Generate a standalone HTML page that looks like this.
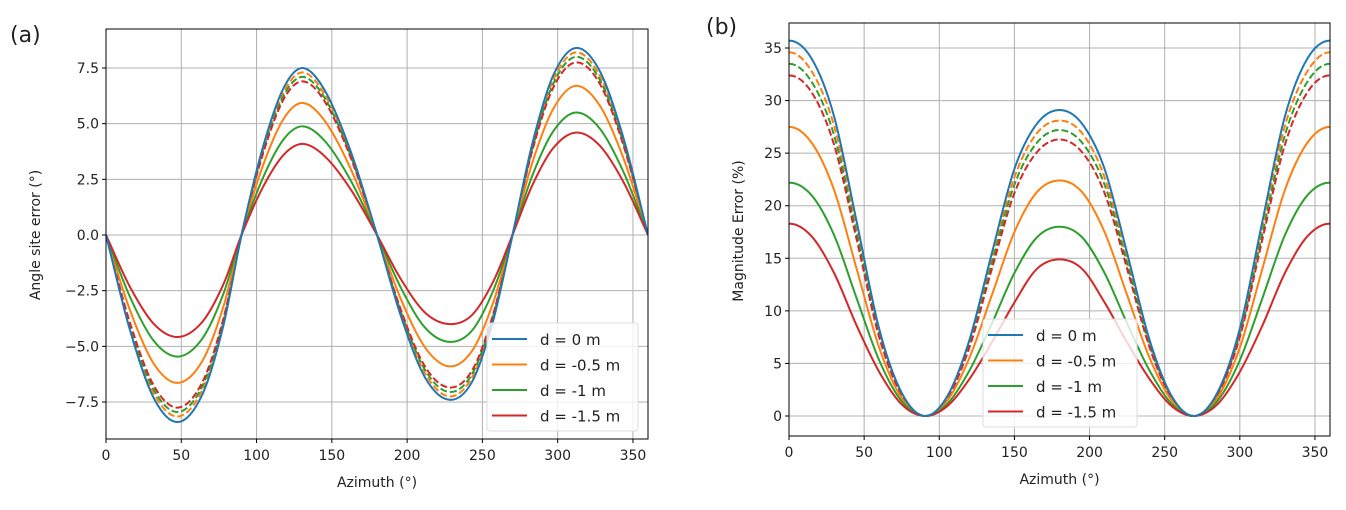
<!DOCTYPE html>
<html><head><meta charset="utf-8"><style>
body{margin:0;background:#fff}
svg text{font-family:"DejaVu Sans","Liberation Sans",sans-serif;fill:#222}
</style></head><body>
<svg id="fig" width="1346" height="505" xmlns="http://www.w3.org/2000/svg"></svg>
<script>
const azimuthA=[0,16,32,48,64,78,90,104,118,131,146,163,180,196,212,228,243,257,270,283,297,312,328,344,360];
const azimuthB=[0,15,30,45,60,75,90,105,120,135,150,165,180,195,210,225,240,255,270,285,300,315,330,345,360];
const seriesNames=["d = 0 m","d = -0.5 m","d = -1 m","d = -1.5 m"];
const colors=["#1f77b4","#ff7f0e","#2ca02c","#d62728"];
const aTicksX=[0,50,100,150,200,250,300,350];
const aTicksY=[-7.5,-5,-2.5,0,2.5,5,7.5];
const aTickLabelsY=["\u22127.5","\u22125.0","\u22122.5","0.0","2.5","5.0","7.5"];
const bTicksY=[0,5,10,15,20,25,30,35];
// chart (a) angle site error
const aBlue=[0,-4.29,-7.36,-8.4,-7.16,-4.06,0,3.89,6.61,7.5,6.41,3.67,0,-3.67,-6.41,-7.4,-6.61,-3.89,0,4.06,7.16,8.4,7.36,4.29,0];
const aOrange=[0,-3.39,-5.81,-6.64,-5.66,-3.21,0,3.07,5.22,5.93,5.06,2.9,0,-2.9,-5.06,-5.9,-5.22,-3.07,0,3.21,5.66,6.7,5.81,3.39,0];
const aGreen=[0,-2.79,-4.78,-5.46,-4.65,-2.64,0,2.53,4.3,4.88,4.17,2.39,0,-2.39,-4.17,-4.8,-4.3,-2.53,0,2.64,4.65,5.5,4.78,2.79,0];
const aRed=[0,-2.34,-4.01,-4.58,-3.9,-2.21,0,2.12,3.6,4.09,3.49,2.0,0,-2.0,-3.49,-4.0,-3.6,-2.12,0,2.21,3.9,4.6,4.01,2.34,0];
const aOrangeDash=[0,-4.16,-7.14,-8.15,-6.95,-3.94,0,3.77,6.41,7.3,6.22,3.56,0,-3.56,-6.22,-7.25,-6.41,-3.77,0,3.94,6.95,8.2,7.14,4.16,0];
const aGreenDash=[0,-4.06,-6.97,-7.95,-6.78,-3.84,0,3.68,6.26,7.1,6.07,3.48,0,-3.48,-6.07,-7.05,-6.26,-3.68,0,3.84,6.78,8.0,6.97,4.06,0];
const aRedDash=[0,-3.96,-6.79,-7.75,-6.61,-3.75,0,3.59,6.1,6.9,5.92,3.39,0,-3.39,-5.92,-6.85,-6.1,-3.59,0,3.75,6.61,7.75,6.79,3.96,0];
// chart (b) magnitude error
const bBlue=[35.7,34.0,28.5,18.5,8.3,2.2,0,1.8,7.2,15.5,23.5,27.8,29.1,27.8,23.5,15.5,7.2,1.8,0,2.2,8.3,18.5,28.5,34.0,35.7];
const bOrange=[27.5,26.0,21.5,14.0,6.5,1.7,0,1.4,5.5,11.5,17.5,21.3,22.4,21.3,17.5,11.5,5.5,1.4,0,1.7,6.5,14.0,21.5,26.0,27.5];
const bGreen=[22.2,21.0,17.2,11.2,5.3,1.4,0,1.1,4.3,8.8,13.6,17.0,18.0,17.0,13.6,8.8,4.3,1.1,0,1.4,5.3,11.2,17.2,21.0,22.2];
const bRed=[18.3,17.1,13.6,8.6,4.2,1.1,0,0.9,3.5,7.0,10.8,14.0,14.9,14.0,10.8,7.0,3.5,0.9,0,1.1,4.2,8.6,13.6,17.1,18.3];
const bOrangeDash=[34.6,32.8,27.6,17.9,8.0,2.1,0,1.7,7.0,15.0,22.7,26.9,28.1,26.9,22.7,15.0,7.0,1.7,0,2.1,8.0,17.9,27.6,32.8,34.6];
const bGreenDash=[33.5,31.8,26.7,17.3,7.8,2.1,0,1.7,6.7,14.5,22.0,26.0,27.2,26.0,22.0,14.5,6.7,1.7,0,2.1,7.8,17.3,26.7,31.8,33.5];
const bRedDash=[32.4,30.8,25.8,16.8,7.5,2.0,0,1.6,6.5,14.0,21.2,25.1,26.3,25.1,21.2,14.0,6.5,1.6,0,2.0,7.5,16.8,25.8,30.8,32.4];

const NS="http://www.w3.org/2000/svg";
const svg=document.getElementById('fig');
function mk(tag,attrs,parent){const e=document.createElementNS(NS,tag);for(const k in attrs)e.setAttribute(k,attrs[k]);(parent||svg).appendChild(e);return e;}
function pathD(xs,ys,sx,sy,flatEnds){
  const p=xs.map((x,i)=>[sx(x),sy(ys[i])]);
  const n=p.length;
  const m=[];
  for(let i=0;i<n;i++){
    const a=p[Math.max(0,i-1)],b=p[Math.min(n-1,i+1)];
    m.push((b[1]-a[1])/(b[0]-a[0]));
  }
  if(flatEnds){m[0]=0;m[n-1]=0;}
  let d="M"+p[0][0].toFixed(2)+","+p[0][1].toFixed(2);
  for(let i=0;i<n-1;i++){
    const h=(p[i+1][0]-p[i][0])/3;
    const c1=[p[i][0]+h,p[i][1]+m[i]*h];
    const c2=[p[i+1][0]-h,p[i+1][1]-m[i+1]*h];
    d+=" C"+c1.map(v=>v.toFixed(2))+" "+c2.map(v=>v.toFixed(2))+" "+p[i+1].map(v=>v.toFixed(2));
  }
  return d;
}
function chart(cfg){
  const g=mk('g',{});
  
  
  const sx=v=>cfg.x0+(v-0)/360*(cfg.x1-cfg.x0);
  const sy=v=>cfg.yZero+(v)*(cfg.yRef-cfg.yZero)/cfg.vRef;
  const clip=mk('clipPath',{id:cfg.name+'-clip'},g);
  mk('rect',{x:cfg.x0,y:cfg.top,width:cfg.x1-cfg.x0,height:cfg.bot-cfg.top},clip);
  aTicksX.forEach(t=>{
    const l=mk('line',{x1:sx(t),x2:sx(t),y1:cfg.top,y2:cfg.bot,stroke:'#b0b0b0','stroke-width':1},g);
    
    
    mk('line',{x1:sx(t),x2:sx(t),y1:cfg.bot,y2:cfg.bot+4,stroke:'#000'},g);
    const tx=mk('text',{x:sx(t),y:cfg.bot+21,'text-anchor':'middle','font-size':14},g);
    tx.textContent=t;
    
    
  });
  cfg.yTicks.forEach((t,i)=>{
    const l=mk('line',{x1:cfg.x0,x2:cfg.x1,y1:sy(t),y2:sy(t),stroke:'#b0b0b0','stroke-width':1},g);
    
    
    mk('line',{x1:cfg.x0-4,x2:cfg.x0,y1:sy(t),y2:sy(t),stroke:'#000'},g);
    const tx=mk('text',{x:cfg.x0-7,y:sy(t)+5,'text-anchor':'end','font-size':14},g);
    tx.textContent=cfg.yLabels[i];
    
    
  });
  const lines=mk('g',{'clip-path':'url(#'+cfg.name+'-clip)'},g);
  cfg.series.forEach(s=>{
    const p=mk('path',{d:pathD(cfg.xs,s.v,sx,sy,cfg.flat),fill:'none',stroke:s.c,'stroke-width':2,'stroke-dasharray':s.dash?'7,3':'none'},lines);
    
    
  });
  mk('rect',{x:cfg.x0,y:cfg.top,width:cfg.x1-cfg.x0,height:cfg.bot-cfg.top,fill:'none',stroke:'#000','stroke-width':1},g);
  const xl=mk('text',{x:(cfg.x0+cfg.x1)/2,y:cfg.bot+48,'text-anchor':'middle','font-size':14},g);
  xl.textContent="Azimuth (°)";
  
  
  const yl=mk('text',{x:0,y:0,'text-anchor':'middle','font-size':14,transform:'translate('+cfg.ylx+','+cfg.yly+') rotate(-90)'},g);
  yl.textContent=cfg.ytitle;
  
  
  const pl=mk('text',{x:cfg.px,y:cfg.py,'font-size':22,'font-family':'Liberation Sans'},g);
  pl.textContent=cfg.panel;
  
  
  const lg=mk('g',{},g);
  
  
  mk('rect',{x:cfg.lx,y:cfg.ly,width:cfg.lw,height:108,rx:3,fill:'rgba(255,255,255,0.8)',stroke:'#ddd'},lg);
  seriesNames.forEach((nm,i)=>{
    const e=mk('g',{},lg);
    
    
    const yy=cfg.ly+16+i*25.5;
    mk('line',{x1:cfg.lx+5,x2:cfg.lx+40,y1:yy,y2:yy,stroke:colors[i],'stroke-width':2},e);
    const t=mk('text',{x:cfg.lx+53,y:yy+6,'font-size':15},e);
    t.textContent=nm;
  });
}
chart({name:'chart-a',xs:azimuthA,flat:false,x0:106,x1:648,top:29,bot:439,yZero:235,yRef:68,vRef:7.5,yTicks:aTicksY,yLabels:aTickLabelsY,
  ytitle:'Angle site error (°)',ylx:40,yly:235,panel:'(a)',px:10,py:42,lx:487,ly:323,lw:151,
  series:[{n:'a-orange-dashed',v:aOrangeDash,c:colors[1],dash:1},{n:'a-green-dashed',v:aGreenDash,c:colors[2],dash:1},{n:'a-red-dashed',v:aRedDash,c:colors[3],dash:1},
  {n:'a-orange',v:aOrange,c:colors[1]},{n:'a-green',v:aGreen,c:colors[2]},{n:'a-red',v:aRed,c:colors[3]},{n:'a-blue',v:aBlue,c:colors[0]}]});
chart({name:'chart-b',xs:azimuthB,flat:true,x0:789,x1:1330,top:23,bot:436,yZero:416,yRef:48,vRef:35,yTicks:bTicksY,yLabels:bTicksY.map(String),
  ytitle:'Magnitude Error (%)',ylx:743,yly:231,panel:'(b)',px:706,py:34,lx:983,ly:319,lw:154,
  series:[{n:'b-orange-dashed',v:bOrangeDash,c:colors[1],dash:1},{n:'b-green-dashed',v:bGreenDash,c:colors[2],dash:1},{n:'b-red-dashed',v:bRedDash,c:colors[3],dash:1},
  {n:'b-orange',v:bOrange,c:colors[1]},{n:'b-green',v:bGreen,c:colors[2]},{n:'b-red',v:bRed,c:colors[3]},{n:'b-blue',v:bBlue,c:colors[0]}]});
</script>
</body></html>
